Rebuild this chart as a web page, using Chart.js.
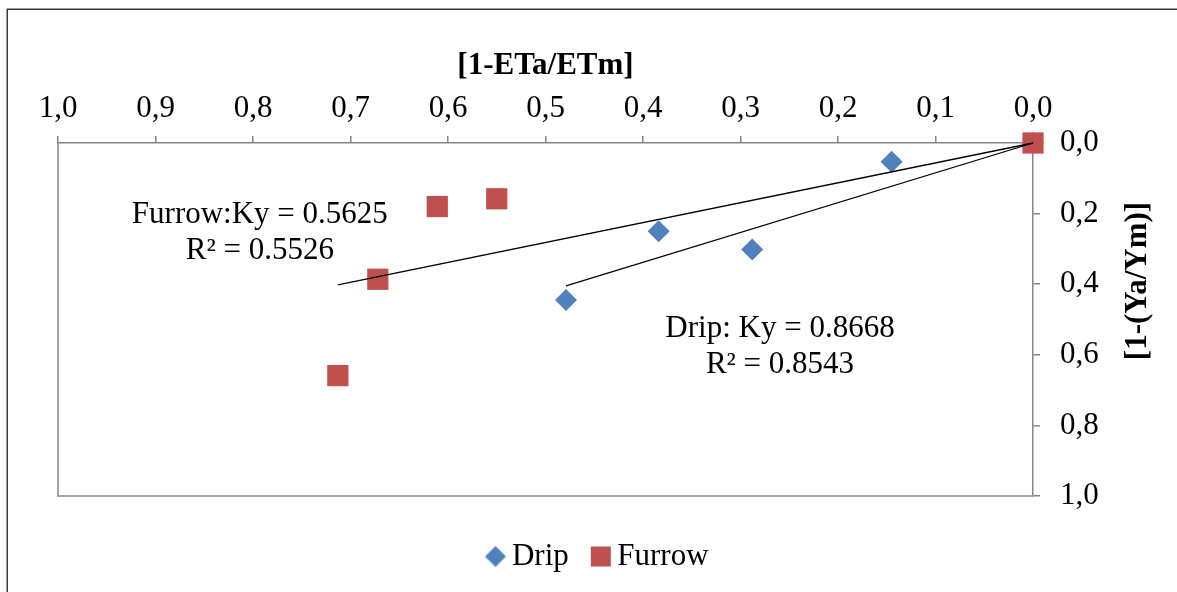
<!DOCTYPE html>
<html><head><meta charset="utf-8">
<script src="https://cdn.jsdelivr.net/npm/chart.js@4/dist/chart.umd.min.js"></script>
<style>html,body{margin:0;padding:0;background:#fff}canvas{display:block}</style>
</head><body>
<canvas id="c" width="1177" height="592"></canvas>
<script>
// ---- data ----
const dripX = [0, 0.145, 0.384, 0.288, 0.479];
const dripY = [0, 0.053, 0.250, 0.302, 0.445];
const furrowX = [0, 0.550, 0.611, 0.672, 0.713];
const furrowY = [0, 0.158, 0.180, 0.386, 0.659];
const furrowTrendX = [0, 0.713];
const furrowTrendY = [0, 0.402];
const dripTrendX = [0, 0.479];
const dripTrendY = [0, 0.405];
const seriesNames = ['Drip', 'Furrow'];
const xTickLabels = ['0,0','0,1','0,2','0,3','0,4','0,5','0,6','0,7','0,8','0,9','1,0'];
const yTickLabels = ['0,0','0,2','0,4','0,6','0,8','1,0'];
const xTitle = '[1-ETa/ETm]';
const yTitle = '[1-(Ya/Ym)]';
const annoText = [['Furrow:Ky = 0.5625', 'R² = 0.5526'], ['Drip: Ky = 0.8668', 'R² = 0.8543']];
const annoX = [0.793, 0.2595];
const annoY = [0.2045, 0.5256];

const pts = (xs, ys) => xs.map((x, i) => ({x: x, y: ys[i]}));
const FONT = "'Liberation Serif', 'Times New Roman', serif";
const GREY = '#868686';
const BLUE = '#4F81BD', RED = '#C0504D';

function markerCanvas(kind, color) {
  const c = document.createElement('canvas');
  c.width = 24; c.height = 24;
  const g = c.getContext('2d');
  g.fillStyle = color;
  g.beginPath();
  if (kind === 'diamond') { g.moveTo(12, 1.5); g.lineTo(22.5, 12); g.lineTo(12, 22.5); g.lineTo(1.5, 12); g.closePath(); }
  else { g.rect(2, 2, 20, 20); }
  g.fill();
  return c;
}
const legendMarkers = [markerCanvas('diamond', BLUE), markerCanvas('square', RED)];

const framePlugin = {
  id: 'frame',
  beforeDraw(chart) {
    const ctx = chart.ctx;
    ctx.save();
    ctx.fillStyle = '#fff';
    ctx.fillRect(0, 0, chart.width, chart.height);
    ctx.strokeStyle = '#3a3a3a';
    ctx.lineWidth = 1.5;
    ctx.strokeRect(7.25, 9.25, chart.width + 20, chart.height + 20);
    ctx.restore();
  },
  beforeDatasetsDraw(chart) {
    const a = chart.chartArea, ctx = chart.ctx;
    ctx.save();
    ctx.strokeStyle = GREY;
    ctx.lineWidth = 1.5;
    ctx.beginPath();
    ctx.moveTo(a.left, a.top);
    ctx.lineTo(a.left, a.bottom);
    ctx.lineTo(a.right, a.bottom);
    ctx.stroke();
    ctx.restore();
  },
  afterDraw(chart) {
    const ctx = chart.ctx, xs = chart.scales.x, ys = chart.scales.y;
    ctx.save();
    ctx.fillStyle = '#000';
    ctx.textAlign = 'center';
    ctx.textBaseline = 'middle';
    ctx.font = '31px ' + FONT;
    annoText.forEach((lines, i) => {
      const cx = xs.getPixelForValue(annoX[i]);
      const cy = ys.getPixelForValue(annoY[i]);
      lines.forEach((t, j) => ctx.fillText(t, cx, cy + j * 36));
    });
    // right axis title, reading bottom-to-top
    ctx.font = 'bold 31px ' + FONT;
    ctx.translate(1138, 281);
    ctx.rotate(-Math.PI / 2);
    ctx.fillText(yTitle, 0, 0);
    ctx.restore();
  }
};

new Chart(document.getElementById('c'), {
  type: 'scatter',
  data: {
    datasets: [
      {label: seriesNames[0], data: pts(dripX, dripY), pointStyle: 'rectRot', pointRadius: 11,
       backgroundColor: BLUE, borderColor: BLUE, borderWidth: 0, order: 3, clip: false},
      {label: seriesNames[1], data: pts(furrowX, furrowY), pointStyle: 'rect', pointRadius: 15,
       backgroundColor: RED, borderColor: RED, borderWidth: 0, order: 2, clip: false},
      {label: 'trendF', data: pts(furrowTrendX, furrowTrendY), showLine: true, pointRadius: 0,
       borderColor: '#000', borderWidth: 1.3, fill: false, order: 1, clip: false},
      {label: 'trendD', data: pts(dripTrendX, dripTrendY), showLine: true, pointRadius: 0,
       borderColor: '#000', borderWidth: 1.3, fill: false, order: 0, clip: false}
    ]
  },
  options: {
    responsive: false,
    animation: false,
    events: [],
    layout: {padding: {left: 26, top: 0, right: 0, bottom: 10}},
    plugins: {
      tooltip: {enabled: false},
      legend: {
        position: 'bottom',
        labels: {
          font: {family: FONT, size: 31},
          color: '#000',
          usePointStyle: true,
          boxWidth: 2, boxHeight: 2,
          padding: 31,
          generateLabels: (chart) => Chart.defaults.plugins.legend.labels.generateLabels(chart)
            .filter((it) => it.datasetIndex < 2)
            .sort((a, b) => a.datasetIndex - b.datasetIndex)
            .map((it) => Object.assign({}, it, {pointStyle: legendMarkers[it.datasetIndex], fontColor: '#000'}))
        }
      }
    },
    scales: {
      x: {
        type: 'linear', position: 'top', reverse: true, min: 0, max: 1,
        ticks: {stepSize: 0.1, font: {family: FONT, size: 31}, color: '#000', padding: 9,
                callback: (v) => xTickLabels[Math.round(v * 10)]},
        grid: {drawOnChartArea: false, drawTicks: true, tickLength: 7, color: GREY, lineWidth: 1.5},
        border: {display: true, color: GREY, width: 1.5},
        title: {display: true, text: xTitle, font: {family: FONT, size: 31, weight: 'bold'}, color: '#000',
                padding: {top: 47, bottom: 0}},
        afterFit: (s) => { s.height = 143; }
      },
      y: {
        type: 'linear', position: 'right', reverse: true, min: 0, max: 1,
        ticks: {stepSize: 0.2, font: {family: FONT, size: 31}, color: '#000', padding: 20,
                callback: (v) => yTickLabels[Math.round(v * 5)]},
        grid: {drawOnChartArea: false, drawTicks: true, tickLength: 7, color: GREY, lineWidth: 1.5},
        border: {display: true, color: GREY, width: 1.5},
        afterFit: (s) => { s.width = 144; }
      },
      x2: {
        type: 'linear', position: 'bottom', display: true,
        ticks: {display: false}, grid: {display: false}, border: {display: false},
        afterFit: (s) => { s.height = 14; }
      },
      y2: {
        type: 'linear', position: 'left', display: true,
        ticks: {display: false}, grid: {display: false}, border: {display: false},
        afterFit: (s) => { s.width = 32; }
      }
    }
  },
  plugins: [framePlugin]
});
</script>
</body></html>
